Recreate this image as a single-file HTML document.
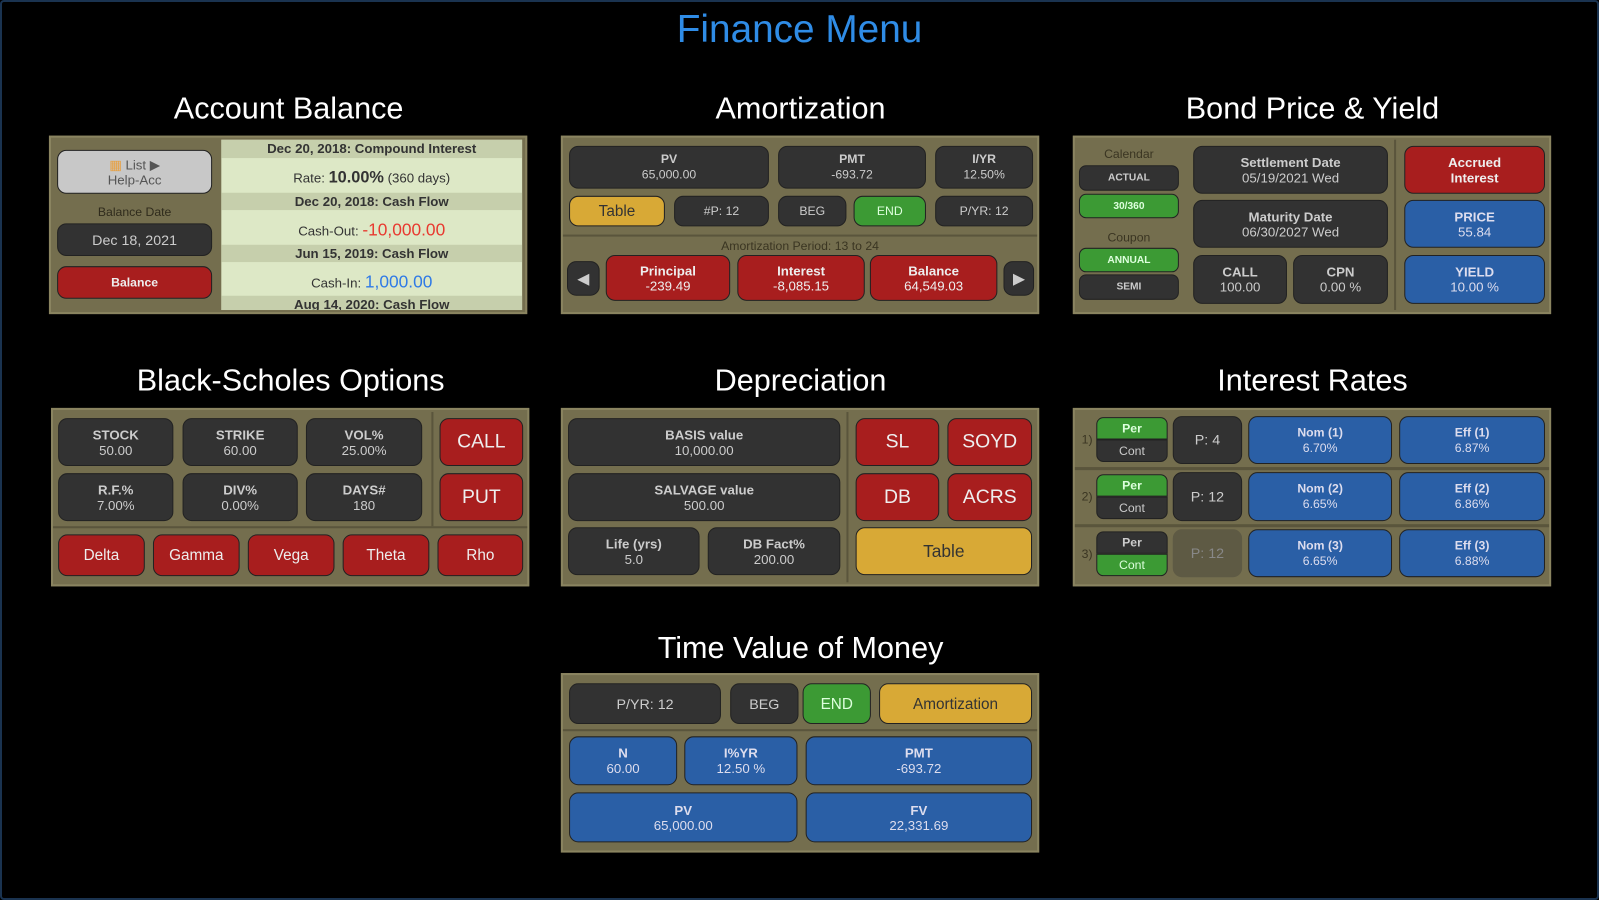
<!DOCTYPE html>
<html><head><meta charset="utf-8"><style>
*{margin:0;padding:0;box-sizing:border-box}
body{width:1599px;height:900px;background:#000;position:relative;overflow:hidden;font-family:"Liberation Sans",sans-serif}
#frame{position:absolute;left:0;top:0;width:1599px;height:900px;border:2px solid #1a3350;border-radius:4px}
#w{position:absolute;left:0;top:0;width:1568px;height:883px;transform:scale(1.0198);transform-origin:0 0}
.t{position:absolute;color:#fff;font-size:30px;text-align:center;width:470px}
.p{position:absolute;background:#746e4e;border:2px solid #8a8460}
.b{position:absolute;border-radius:9px;color:#ccc;font-weight:bold;font-size:12px;line-height:15px;display:flex;flex-direction:column;justify-content:center;align-items:center;text-align:center;border:1px solid #222}
.d{background:#323232}
.r{background:#a81e1e;color:#eee}
.u{background:#2a5fa6;color:#dde}
.g{background:#3c9a34;color:#dfd}
.y{background:#d8a936;color:#333;font-weight:normal;font-size:15px}
.big{font-size:19px;font-weight:normal}
.s{position:absolute;color:#3a3522;font-size:12px;text-align:center}
.line{position:absolute;background:#5a553c}
</style></head><body>
<div id="frame"></div>
<div id="w">
<div style="position:absolute;left:0;width:1568px;top:8px;text-align:center;color:#2f8ce6;font-size:38px">Finance Menu</div>

<div class="t" style="left:48px;top:90px">Account Balance</div>
<div class="t" style="left:550px;top:90px">Amortization</div>
<div class="t" style="left:1052px;top:90px">Bond Price &amp; Yield</div>
<div class="t" style="left:50px;top:357px">Black-Scholes Options</div>
<div class="t" style="left:550px;top:357px">Depreciation</div>
<div class="t" style="left:1052px;top:357px">Interest Rates</div>
<div class="t" style="left:550px;top:619px">Time Value of Money</div>

<!-- Account Balance -->
<div class="p" style="left:48px;top:133px;width:469px;height:175px"></div>
<div class="b" style="left:56px;top:147px;width:152px;height:43px;background:#c8c8c8;color:#555;font-weight:normal;font-size:13px"><span><span style="color:#e8a040">▦</span> List ▶</span><span>Help-Acc</span></div>
<div class="s" style="left:56px;top:201px;width:152px;color:#2f2b1c">Balance Date</div>
<div class="b d" style="left:56px;top:219px;width:152px;height:32px;font-weight:normal;font-size:14px">Dec 18, 2021</div>
<div class="b r" style="left:56px;top:261px;width:152px;height:32px">Balance</div>
<div style="position:absolute;left:217px;top:137px;width:295px;height:167px;background:#dde8c6;overflow:hidden;font-size:13px;color:#333;text-align:center">
 <div style="background:#c6cfac;height:18px;line-height:18px;font-weight:bold">Dec 20, 2018: Compound Interest</div>
 <div style="height:34px;line-height:40px">Rate: <b style="font-size:16px">10.00%</b> (360 days)</div>
 <div style="background:#c6cfac;height:17px;line-height:17px;font-weight:bold">Dec 20, 2018: Cash Flow</div>
 <div style="height:34px;line-height:40px">Cash-Out: <span style="color:#e83a30;font-size:17px">-10,000.00</span></div>
 <div style="background:#c6cfac;height:17px;line-height:17px;font-weight:bold">Jun 15, 2019: Cash Flow</div>
 <div style="height:33px;line-height:40px">Cash-In: <span style="color:#2f7ae6;font-size:17px">1,000.00</span></div>
 <div style="background:#c6cfac;height:17px;line-height:17px;font-weight:bold">Aug 14, 2020: Cash Flow</div>
</div>

<!-- Amortization -->
<div class="p" style="left:550px;top:133px;width:469px;height:175px"></div>
<div class="b d" style="left:558px;top:143px;width:196px;height:42px">PV<span style="font-weight:normal">65,000.00</span></div>
<div class="b d" style="left:763px;top:143px;width:145px;height:42px">PMT<span style="font-weight:normal">-693.72</span></div>
<div class="b d" style="left:917px;top:143px;width:96px;height:42px">I/YR<span style="font-weight:normal">12.50%</span></div>
<div class="b y" style="left:558px;top:192px;width:94px;height:30px">Table</div>
<div class="b d" style="left:661px;top:192px;width:93px;height:30px;font-weight:normal">#P: 12</div>
<div class="b d" style="left:763px;top:192px;width:67px;height:30px;font-weight:normal">BEG</div>
<div class="b g" style="left:837px;top:192px;width:71px;height:30px;font-weight:normal">END</div>
<div class="b d" style="left:917px;top:192px;width:96px;height:30px;font-weight:normal">P/YR: 12</div>
<div class="line" style="left:552px;top:230px;width:465px;height:2px"></div>
<div class="s" style="left:552px;top:234px;width:465px">Amortization Period: 13 to 24</div>
<div class="b d" style="left:556px;top:256px;width:32px;height:34px;font-size:14px">◀</div>
<div class="b r" style="left:594px;top:250px;width:122px;height:45px;font-size:13px">Principal<span style="font-weight:normal">-239.49</span></div>
<div class="b r" style="left:723px;top:250px;width:125px;height:45px;font-size:13px">Interest<span style="font-weight:normal">-8,085.15</span></div>
<div class="b r" style="left:853px;top:250px;width:125px;height:45px;font-size:13px">Balance<span style="font-weight:normal">64,549.03</span></div>
<div class="b d" style="left:984px;top:256px;width:30px;height:34px;font-size:14px">▶</div>

<!-- Bond -->
<div class="p" style="left:1052px;top:133px;width:469px;height:175px"></div>
<div class="s" style="left:1058px;top:144px;width:98px">Calendar</div>
<div class="b d" style="left:1058px;top:162px;width:98px;height:25px;font-size:10px;border-radius:7px">ACTUAL</div>
<div class="b g" style="left:1058px;top:190px;width:98px;height:24px;font-size:10px;border-radius:7px">30/360</div>
<div class="s" style="left:1058px;top:226px;width:98px">Coupon</div>
<div class="b g" style="left:1058px;top:243px;width:98px;height:24px;font-size:10px;border-radius:7px">ANNUAL</div>
<div class="b d" style="left:1058px;top:269px;width:98px;height:25px;font-size:10px;border-radius:7px">SEMI</div>
<div class="b d" style="left:1170px;top:143px;width:191px;height:47px;font-size:13px">Settlement Date<span style="font-weight:normal">05/19/2021 Wed</span></div>
<div class="b d" style="left:1170px;top:196px;width:191px;height:47px;font-size:13px">Maturity Date<span style="font-weight:normal">06/30/2027 Wed</span></div>
<div class="b d" style="left:1170px;top:250px;width:92px;height:48px;font-size:13px">CALL<span style="font-weight:normal">100.00</span></div>
<div class="b d" style="left:1268px;top:250px;width:93px;height:48px;font-size:13px">CPN<span style="font-weight:normal">0.00 %</span></div>
<div class="line" style="left:1367px;top:137px;width:2px;height:167px"></div>
<div class="b r" style="left:1377px;top:143px;width:138px;height:47px;font-size:13px">Accrued<span>Interest</span></div>
<div class="b u" style="left:1377px;top:196px;width:138px;height:47px;font-size:13px">PRICE<span style="font-weight:normal">55.84</span></div>
<div class="b u" style="left:1377px;top:250px;width:138px;height:48px;font-size:13px">YIELD<span style="font-weight:normal">10.00 %</span></div>

<!-- Black-Scholes -->
<div class="p" style="left:50px;top:400px;width:469px;height:175px"></div>
<div class="b d" style="left:57px;top:410px;width:113px;height:47px;font-size:13px">STOCK<span style="font-weight:normal">50.00</span></div>
<div class="b d" style="left:179px;top:410px;width:113px;height:47px;font-size:13px">STRIKE<span style="font-weight:normal">60.00</span></div>
<div class="b d" style="left:300px;top:410px;width:114px;height:47px;font-size:13px">VOL%<span style="font-weight:normal">25.00%</span></div>
<div class="b d" style="left:57px;top:464px;width:113px;height:47px;font-size:13px">R.F.%<span style="font-weight:normal">7.00%</span></div>
<div class="b d" style="left:179px;top:464px;width:113px;height:47px;font-size:13px">DIV%<span style="font-weight:normal">0.00%</span></div>
<div class="b d" style="left:300px;top:464px;width:114px;height:47px;font-size:13px">DAYS#<span style="font-weight:normal">180</span></div>
<div class="line" style="left:423px;top:404px;width:2px;height:112px"></div>
<div class="b r big" style="left:431px;top:410px;width:82px;height:47px">CALL</div>
<div class="b r big" style="left:431px;top:464px;width:82px;height:47px">PUT</div>
<div class="line" style="left:52px;top:516px;width:465px;height:2px"></div>
<div class="b r" style="left:57px;top:524px;width:85px;height:41px;font-weight:normal;font-size:15px">Delta</div>
<div class="b r" style="left:150px;top:524px;width:85px;height:41px;font-weight:normal;font-size:15px">Gamma</div>
<div class="b r" style="left:243px;top:524px;width:85px;height:41px;font-weight:normal;font-size:15px">Vega</div>
<div class="b r" style="left:336px;top:524px;width:85px;height:41px;font-weight:normal;font-size:15px">Theta</div>
<div class="b r" style="left:429px;top:524px;width:84px;height:41px;font-weight:normal;font-size:15px">Rho</div>

<!-- Depreciation -->
<div class="p" style="left:550px;top:400px;width:469px;height:175px"></div>
<div class="b d" style="left:557px;top:410px;width:267px;height:47px;font-size:13px">BASIS value<span style="font-weight:normal">10,000.00</span></div>
<div class="b d" style="left:557px;top:464px;width:267px;height:47px;font-size:13px">SALVAGE value<span style="font-weight:normal">500.00</span></div>
<div class="b d" style="left:557px;top:517px;width:129px;height:47px;font-size:13px">Life (yrs)<span style="font-weight:normal">5.0</span></div>
<div class="b d" style="left:694px;top:517px;width:130px;height:47px;font-size:13px">DB Fact%<span style="font-weight:normal">200.00</span></div>
<div class="line" style="left:830px;top:404px;width:2px;height:167px"></div>
<div class="b r big" style="left:839px;top:410px;width:82px;height:47px">SL</div>
<div class="b r big" style="left:929px;top:410px;width:83px;height:47px">SOYD</div>
<div class="b r big" style="left:839px;top:464px;width:82px;height:47px">DB</div>
<div class="b r big" style="left:929px;top:464px;width:83px;height:47px">ACRS</div>
<div class="b y" style="left:839px;top:517px;width:173px;height:47px;font-size:17px">Table</div>

<!-- Interest Rates -->
<div class="p" style="left:1052px;top:400px;width:469px;height:175px"></div>
<div class="line" style="left:1054px;top:458px;width:465px;height:3px"></div>
<div class="line" style="left:1054px;top:514px;width:465px;height:3px"></div>
<div class="s" style="left:1058px;top:424px;width:16px">1)</div>
<div class="s" style="left:1058px;top:480px;width:16px">2)</div>
<div class="s" style="left:1058px;top:536px;width:16px">3)</div>
<div class="b g" style="left:1075px;top:409px;width:70px;height:22px;border-radius:7px 7px 0 0">Per</div>
<div class="b d" style="left:1075px;top:431px;width:70px;height:22px;border-radius:0 0 7px 7px;font-weight:normal">Cont</div>
<div class="b g" style="left:1075px;top:465px;width:70px;height:22px;border-radius:7px 7px 0 0">Per</div>
<div class="b d" style="left:1075px;top:487px;width:70px;height:22px;border-radius:0 0 7px 7px;font-weight:normal">Cont</div>
<div class="b d" style="left:1075px;top:521px;width:70px;height:22px;border-radius:7px 7px 0 0">Per</div>
<div class="b g" style="left:1075px;top:543px;width:70px;height:22px;border-radius:0 0 7px 7px;font-weight:normal">Cont</div>
<div class="b d" style="left:1150px;top:408px;width:68px;height:47px;font-weight:normal;font-size:14px">P: 4</div>
<div class="b d" style="left:1150px;top:463px;width:68px;height:48px;font-weight:normal;font-size:14px">P: 12</div>
<div class="b" style="left:1150px;top:519px;width:68px;height:47px;font-weight:normal;font-size:14px;background:#5e5a44;color:#888;border-color:#5e5a44">P: 12</div>
<div class="b u" style="left:1224px;top:408px;width:141px;height:47px">Nom (1)<span style="font-weight:normal">6.70%</span></div>
<div class="b u" style="left:1372px;top:408px;width:143px;height:47px">Eff (1)<span style="font-weight:normal">6.87%</span></div>
<div class="b u" style="left:1224px;top:463px;width:141px;height:48px">Nom (2)<span style="font-weight:normal">6.65%</span></div>
<div class="b u" style="left:1372px;top:463px;width:143px;height:48px">Eff (2)<span style="font-weight:normal">6.86%</span></div>
<div class="b u" style="left:1224px;top:519px;width:141px;height:47px">Nom (3)<span style="font-weight:normal">6.65%</span></div>
<div class="b u" style="left:1372px;top:519px;width:143px;height:47px">Eff (3)<span style="font-weight:normal">6.88%</span></div>

<!-- TVM -->
<div class="p" style="left:550px;top:660px;width:469px;height:176px"></div>
<div class="b d" style="left:558px;top:670px;width:149px;height:40px;font-weight:normal;font-size:14px">P/YR: 12</div>
<div class="b d" style="left:716px;top:670px;width:67px;height:40px;font-weight:normal;font-size:14px">BEG</div>
<div class="b g" style="left:787px;top:670px;width:67px;height:40px;font-weight:normal;font-size:15px">END</div>
<div class="b y" style="left:862px;top:670px;width:150px;height:40px">Amortization</div>
<div class="line" style="left:552px;top:715px;width:465px;height:2px"></div>
<div class="b u" style="left:558px;top:722px;width:106px;height:48px;font-size:13px">N<span style="font-weight:normal">60.00</span></div>
<div class="b u" style="left:671px;top:722px;width:111px;height:48px;font-size:13px">I%YR<span style="font-weight:normal">12.50 %</span></div>
<div class="b u" style="left:790px;top:722px;width:222px;height:48px;font-size:13px">PMT<span style="font-weight:normal">-693.72</span></div>
<div class="b u" style="left:558px;top:777px;width:224px;height:49px;font-size:13px">PV<span style="font-weight:normal">65,000.00</span></div>
<div class="b u" style="left:790px;top:777px;width:222px;height:49px;font-size:13px">FV<span style="font-weight:normal">22,331.69</span></div>
</div>
</body></html>
